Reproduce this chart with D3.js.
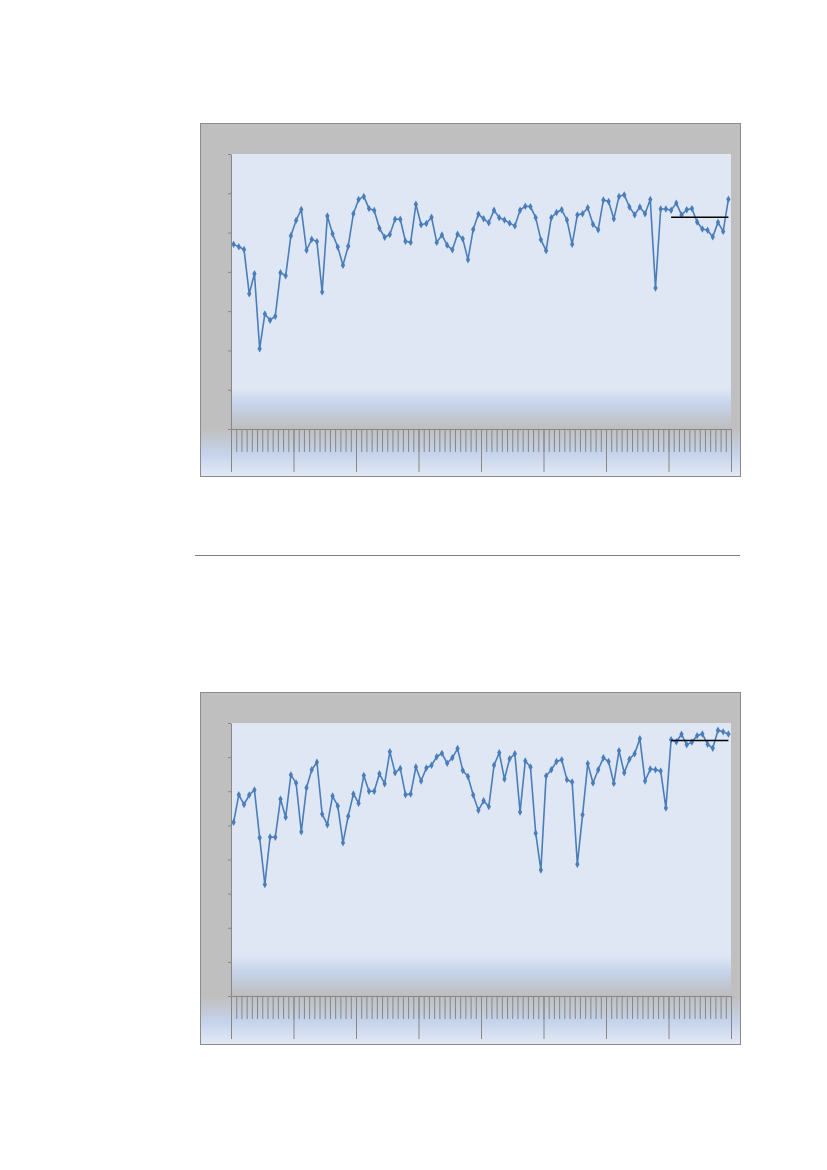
<!DOCTYPE html>
<html>
<head>
<meta charset="utf-8">
<script src="https://cdn.jsdelivr.net/npm/d3@7"></script>
<style>
    body { margin: 0; background: #fff; }
    svg { display: block; }
    .frame { fill: url(#chartBg); stroke: #8c8c8c; stroke-width: 1; }
    .plot { fill: url(#plotBg); }
    .axis path, .axis line { stroke: #878787; }
    .series { fill: none; stroke: #4a7ebb; stroke-width: 1.6; stroke-linejoin: round; }
    .marker { fill: #4a7ebb; }
    .avg { stroke: #000; stroke-width: 1.5; }
</style>
</head>
<body>
<div id="chart"></div>
<script>
// 96 monthly categories (8 years), no labels shown on the axis
var months = d3.range(96).map(function(i){ return 'm' + i; });
var yearStarts = [0, 12, 24, 36, 48, 60, 72, 84, 96];

var series1 = [47.0, 46.4, 45.7, 34.4, 39.5, 20.4, 29.3, 27.7, 28.7, 39.8, 39.0, 49.2,
               53.1, 55.9, 45.5, 48.3, 47.7, 34.9, 54.2, 49.7, 46.3, 41.7, 46.5, 54.8,
               58.4, 59.2, 56.1, 55.6, 51.1, 48.8, 49.5, 53.4, 53.4, 47.8, 47.5, 57.2,
               52.0, 52.3, 53.9, 47.5, 49.4, 46.8, 45.6, 49.6, 48.4, 43.1, 50.8, 54.7,
               53.5, 52.5, 55.7, 53.8, 53.2, 52.4, 51.7, 55.7, 56.7, 56.6, 53.8, 48.2,
               45.4, 53.8, 55.1, 55.8, 53.2, 47.0, 54.5, 54.8, 56.3, 52.1, 50.7, 58.3,
               57.9, 53.5, 59.2, 59.6, 56.5, 54.5, 56.5, 54.8, 58.4, 35.9, 56.0, 56.0,
               55.7, 57.5, 54.5, 55.8, 56.1, 52.7, 50.9, 50.6, 48.9, 52.6, 50.3, 58.5];
var avg1 = 53.9;
var ticks1 = [0, 10, 20, 30, 40, 50, 60, 70];

var series2 = [50.9, 59.0, 56.1, 58.9, 60.4, 46.4, 32.7, 46.6, 46.5, 57.7, 52.4, 64.8,
               62.4, 48.1, 61.0, 66.3, 68.5, 53.3, 50.2, 58.6, 55.7, 44.9, 52.7, 59.2,
               56.5, 64.6, 60.0, 60.0, 65.1, 62.2, 71.6, 65.4, 66.7, 59.0, 59.2, 67.1,
               63.0, 66.8, 67.6, 70.1, 71.1, 68.2, 69.8, 72.5, 66.1, 64.3, 58.9, 54.4,
               57.2, 55.5, 67.6, 71.3, 63.6, 69.5, 71.0, 53.9, 68.9, 67.1, 47.7, 36.9,
               64.5, 66.3, 68.7, 69.2, 63.4, 62.7, 38.6, 53.1, 68.1, 62.4, 66.3, 69.8,
               68.7, 62.3, 71.9, 65.4, 69.4, 71.0, 75.4, 63.0, 66.5, 66.3, 65.9, 55.1,
               75.1, 74.5, 76.7, 73.6, 74.4, 76.3, 76.8, 73.8, 72.6, 77.9, 77.4, 76.8];
var avg2 = 74.9;
var ticks2 = [0, 10, 20, 30, 40, 50, 60, 70, 80];

var W = 827, H = 1170;
var svg = d3.select('#chart').append('svg')
    .attr('width', W)
    .attr('height', H);

// background gradients (grey frame fading to blue at the bottom, blue plot fading to grey)
var defs = svg.append('defs');
var g1 = defs.append('linearGradient').attr('id', 'chartBg')
    .attr('x1', 0).attr('y1', 0).attr('x2', 0).attr('y2', 1);
g1.append('stop').attr('offset', 0).attr('stop-color', '#bfbfbf');
g1.append('stop').attr('offset', 0.865).attr('stop-color', '#bfbfbf');
g1.append('stop').attr('offset', 0.935).attr('stop-color', '#c5d3eb');
g1.append('stop').attr('offset', 1).attr('stop-color', '#e3eaf5');
var g2 = defs.append('linearGradient').attr('id', 'plotBg')
    .attr('x1', 0).attr('y1', 0).attr('x2', 0).attr('y2', 1);
g2.append('stop').attr('offset', 0).attr('stop-color', '#dfe7f4');
g2.append('stop').attr('offset', 0.85).attr('stop-color', '#dfe7f4');
g2.append('stop').attr('offset', 0.91).attr('stop-color', '#c6d4eb');
g2.append('stop').attr('offset', 1).attr('stop-color', '#bdbdbd');

function drawPanel(opt) {
    var g = svg.append('g');

    g.append('rect').attr('class', 'frame')
        .attr('x', 200.5).attr('y', opt.top + 0.5)
        .attr('width', 540).attr('height', opt.boxH);

    var plotTop = opt.top + 31;
    var plotBottom = plotTop + opt.plotH;
    var left = 231, right = 731;

    g.append('rect').attr('class', 'plot')
        .attr('x', left).attr('y', plotTop)
        .attr('width', right - left).attr('height', opt.plotH);

    var x = d3.scaleBand().domain(months).range([left, right]).padding(0);
    var xi = d3.scaleLinear().domain([0, months.length]).range([left, right]);
    var y = d3.scaleLinear().domain([0, d3.max(opt.ticks)]).range([plotBottom, plotTop]);

    // y axis
    g.append('g').attr('class', 'axis')
        .attr('transform', 'translate(' + left + ',0)')
        .call(d3.axisLeft(y).tickValues(opt.ticks).tickSize(3).tickSizeOuter(0).tickFormat(''));

    // x axis: minor tick per month, long tick per year
    g.append('g').attr('class', 'axis')
        .attr('transform', 'translate(0,' + plotBottom + ')')
        .call(d3.axisBottom(xi).tickValues(d3.range(0, months.length + 1)).tickSize(23).tickSizeOuter(0).tickFormat(''));
    g.append('g').attr('class', 'axis')
        .attr('transform', 'translate(0,' + plotBottom + ')')
        .call(d3.axisBottom(xi).tickValues(yearStarts).tickSize(43).tickSizeOuter(0).tickFormat(''))
        .select('.domain').remove();

    var cx = function(d, i){ return x(months[i]) + x.bandwidth() / 2; };

    var line = d3.line()
        .x(cx)
        .y(function(d){ return y(d); });

    g.append('path').attr('class', 'series')
        .attr('d', line(opt.values));

    g.selectAll('path.marker')
        .data(opt.values)
        .enter()
        .append('path')
        .attr('class', 'marker')
        .attr('transform', function(d, i){ return 'translate(' + cx(d, i) + ',' + y(d) + ')'; })
        .attr('d', d3.symbol().type(d3.symbolDiamond).size(16));

    // average of the last year
    g.append('line').attr('class', 'avg')
        .attr('x1', cx(null, 84)).attr('x2', cx(null, 95))
        .attr('y1', y(opt.avg)).attr('y2', y(opt.avg));
}

drawPanel({ top: 123, boxH: 353, plotH: 275, values: series1, avg: avg1, ticks: ticks1 });

// separator rule between the two charts
svg.append('line')
    .attr('x1', 195).attr('x2', 740)
    .attr('y1', 555.5).attr('y2', 555.5)
    .attr('stroke', '#7f7f7f').attr('stroke-width', 1);

drawPanel({ top: 692, boxH: 352, plotH: 273, values: series2, avg: avg2, ticks: ticks2 });
</script>
</body>
</html>
